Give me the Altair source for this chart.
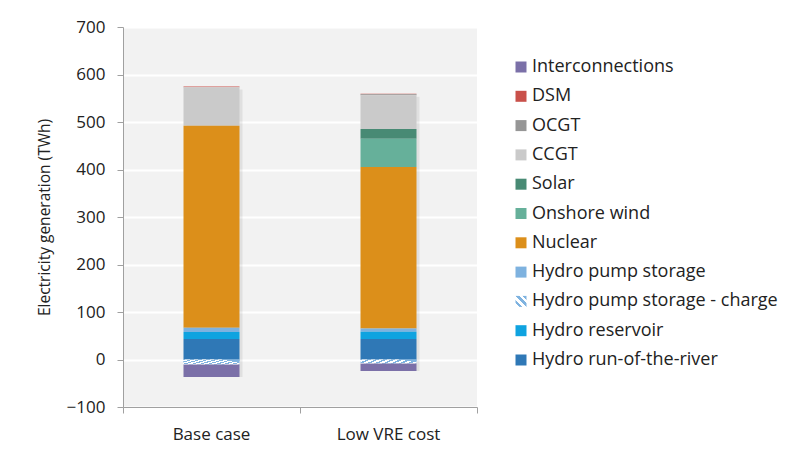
import altair as alt
import pandas as pd

scenarios = ["Base case", "Low VRE cost"]
series = ["Interconnections", "DSM", "OCGT", "CCGT", "Solar", "Onshore wind", "Nuclear",
          "Hydro pump storage", "Hydro pump storage - charge", "Hydro reservoir",
          "Hydro run-of-the-river"]
base_case = [-27, 2, 0, 81, 0, 0, 425, 9, -10, 15, 43]
low_vre = [-16, 1, 2, 71, 21, 59, 340, 7, -8, 15.5, 43]
colors = ["#7b70a8", "#c9504a", "#969696", "#cacaca", "#488a74", "#66b09a", "#dc8f1a",
          "#7eb2df", "#bcd7ef", "#0fa3e0", "#2f78b6"]
stack_order = ["Hydro run-of-the-river", "Hydro reservoir", "Hydro pump storage",
               "Hydro pump storage - charge", "Interconnections", "Nuclear", "Onshore wind",
               "Solar", "CCGT", "OCGT", "DSM"]

rows = []
for sc, vals in zip(scenarios, [base_case, low_vre]):
    for s, v in zip(series, vals):
        rows.append({"scenario": sc, "series": s, "value": v, "ord": stack_order.index(s)})
df = pd.DataFrame(rows)

FONT = "Open Sans"
HATCH_BLUE = "#7fb3e0"


def stripe_stops(n, frac_white=0.55):
    st = []
    for k in range(n):
        a = k / n
        m = (k + frac_white) / n
        b = (k + 1) / n
        st += [{"offset": a, "color": "#ffffff"}, {"offset": m, "color": "#ffffff"},
               {"offset": m, "color": HATCH_BLUE}, {"offset": b, "color": HATCH_BLUE}]
    return st


# hatch-like gradient for the charge segment in the bars
hatch = {"gradient": "linear", "x1": 0, "y1": 1, "x2": 1, "y2": 0.6, "stops": stripe_stops(8)}

# hatch-like gradient for the legend symbol (via an expression in the colour range)
leg_stops = ",".join("{offset:%g,color:'%s'}" % (s["offset"], s["color"]) for s in stripe_stops(3, 0.5))
leg_expr = "{gradient:'linear',x1:0,y1:1,x2:1,y2:0,stops:[%s]}" % leg_stops
range_vals = [c if s != "Hydro pump storage - charge" else alt.ExprRef(expr=leg_expr)
              for s, c in zip(series, colors)]

x_enc = alt.X("scenario:N", sort=scenarios, title=None,
              scale=alt.Scale(paddingInner=0, paddingOuter=0),
              axis=alt.Axis(labelAngle=0, labelFont=FONT, labelFontSize=17, labelColor="#222",
                            labelPadding=13, domainColor="#a0a0a0", tickColor="#a0a0a0",
                            tickSize=6, bandPosition=1, tickExtra=True, grid=False))

y_scale = alt.Scale(domain=[-100, 700], nice=False)

shadow = alt.Chart(df).transform_calculate(
    pos="max(datum.value, 0)", neg="min(datum.value, 0)"
).transform_aggregate(
    p="sum(pos)", q="sum(neg)", groupby=["scenario"]
).mark_bar(size=56, color="#000000", opacity=0.07, xOffset=3, yOffset=3).encode(
    x=x_enc,
    y=alt.Y("p:Q", scale=y_scale),
    y2="q:Q",
)

bars = alt.Chart(df).mark_bar(size=56).encode(
    x=x_enc,
    y=alt.Y("sum(value):Q", stack="zero", scale=y_scale,
            title="Electricity generation (TWh)",
            axis=alt.Axis(values=list(range(-100, 701, 100)), labelFont=FONT, labelFontSize=17,
                          labelColor="#222", titleFont=FONT, titleFontSize=15.5,
                          titleFontWeight="normal", titleColor="#222", titlePadding=14,
                          domainColor="#a0a0a0", tickColor="#a0a0a0", tickSize=6,
                          labelPadding=12, gridColor="#ffffff", gridWidth=2)),
    color=alt.Color("series:N", scale=alt.Scale(domain=series, range=range_vals),
                    legend=alt.Legend(title=None, orient="none", legendX=389, legendY=31,
                                      labelFont=FONT, labelFontSize=18, labelColor="#222",
                                      symbolType="square", symbolSize=121, labelOffset=2,
                                      symbolStrokeWidth=0, rowPadding=11.3, labelLimit=400)),
    order=alt.Order("ord:Q"),
)

charge = alt.Chart(df).transform_filter(
    alt.datum.series == "Hydro pump storage - charge"
).mark_bar(size=56, fill=hatch).encode(
    x=x_enc,
    y=alt.Y("value:Q", scale=y_scale),
    y2=alt.datum(0),
)

chart = alt.layer(shadow, bars, charge).properties(
    width=354, height=380,
    padding={"left": 115, "top": 19, "right": 320, "bottom": 42},
    autosize=alt.AutoSizeParams(type="none"),
    background="#ffffff",
).configure_view(fill="#f2f2f2", stroke=None)

chart.save("out.html", embed_options={"renderer": "svg", "actions": False})
